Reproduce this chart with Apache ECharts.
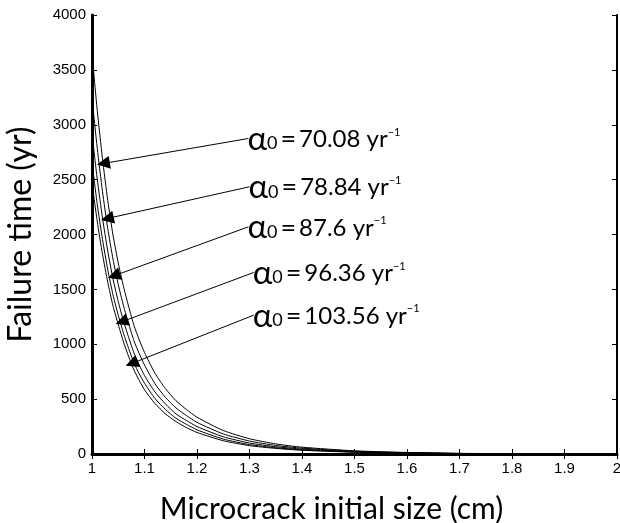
<!DOCTYPE html>
<html>
<head>
<meta charset="utf-8">
<script src="https://cdn.jsdelivr.net/npm/echarts@6/dist/echarts.min.js"></script>
<style>
  html, body { margin: 0; padding: 0; background: #fff; }
  #chart { width: 620px; height: 523px; }
</style>
</head>
<body>
<div id="chart"></div>
<script>
// microcrack initial size (cm)
const sizes = [1.00, 1.01, 1.02, 1.03, 1.04, 1.05, 1.06, 1.07, 1.08, 1.09, 1.10, 1.12, 1.14, 1.16, 1.18, 1.20, 1.25, 1.30, 1.35, 1.40, 1.50, 1.60, 1.70, 1.80, 1.90, 2.00];
// failure time (yr) for each alpha0
const fail7008  = [3650, 3130, 2690, 2310, 1995, 1740, 1525, 1340, 1170, 1040, 925, 735, 595, 485, 405, 335, 214, 139, 92, 62, 29, 14, 6, 3, 1, 0];
const fail7884  = [3245, 2785, 2390, 2055, 1775, 1545, 1350, 1185, 1030, 915, 810, 640, 515, 420, 350, 288, 183, 118, 78, 53, 25, 12, 5, 3, 1, 0];
const fail876   = [2920, 2505, 2150, 1850, 1595, 1390, 1210, 1060, 920, 810, 715, 565, 455, 365, 305, 250, 157, 100, 66, 45, 21, 10, 4, 2, 1, 0];
const fail9636  = [2655, 2275, 1955, 1680, 1450, 1265, 1100, 960, 830, 730, 645, 505, 405, 325, 270, 220, 136, 86, 57, 38, 18, 9, 4, 2, 1, 0];
const fail10356 = [2470, 2120, 1820, 1565, 1350, 1180, 1020, 885, 765, 670, 585, 460, 365, 295, 240, 196, 121, 76, 51, 34, 16, 8, 3, 2, 1, 0];

const alphaValues = ['70.08', '78.84', '87.6', '96.36', '103.56'];
// annotation arrows: label end -> point on curve (data coords)
const arrowFrom = [[1.298, 2875], [1.300, 2435], [1.298, 2070], [1.308, 1654], [1.308, 1265]];
const arrowTo   = [[1.0216, 2647], [1.0292, 2146], [1.042, 1624], [1.0567, 1205], [1.0757, 825]];

const curves = [fail7008, fail7884, fail876, fail9636, fail10356];

const chart = echarts.init(document.getElementById('chart'));

const tickFont = { color: '#000', fontSize: 15, fontFamily: 'Liberation Sans, Arial, sans-serif' };
const nameFamily = 'Lato, sans-serif';

const series = curves.map((vals, i) => {
  const s = {
    type: 'line',
    data: sizes.map((x, j) => [x, vals[j]]),
    showSymbol: false,
    smooth: 0.2,
    lineStyle: { color: '#000', width: 1 },
    silent: true
  };
  if (i === 0) {
    s.markLine = {
      silent: true,
      symbol: ['none', 'triangle'],
      symbolSize: 13,
      label: { show: false },
      lineStyle: { color: '#000', width: 1, type: 'solid' },
      itemStyle: { color: '#000' },
      data: arrowFrom.map((p, k) => [{ coord: p }, { coord: arrowTo[k] }])
    };
  }
  return s;
});

chart.setOption({
  animation: false,
  backgroundColor: '#fff',
  grid: { left: 92, right: 3, top: 15, bottom: 69, containLabel: false, outerBoundsMode: 'none' },
  xAxis: [{
    type: 'value', min: 1, max: 2, interval: 0.1,
    name: 'Microcrack initial size (cm)', nameLocation: 'middle', nameGap: 40,
    nameTextStyle: { color: '#000', fontSize: 30, fontFamily: nameFamily, padding: [0, 46, 0, 0] },
    axisLine: { show: true, lineStyle: { color: '#000', width: 3 } },
    axisTick: { show: true, inside: true, length: 5, lineStyle: { color: '#000', width: 1 } },
    axisLabel: Object.assign({ margin: 7 }, tickFont),
    splitLine: { show: false }
  }, {
    type: 'value', min: 1, max: 2, interval: 0.1, position: 'top',
    axisLine: { show: true, lineStyle: { color: '#000', width: 2 } },
    axisTick: { show: true, inside: true, length: 5, lineStyle: { color: '#000', width: 1 } },
    axisLabel: { show: false },
    splitLine: { show: false }
  }],
  yAxis: [{
    type: 'value', min: 0, max: 4000, interval: 500,
    name: 'Failure time (yr)', nameLocation: 'middle', nameGap: 55, nameRotate: 90,
    nameTextStyle: { color: '#000', fontSize: 32, fontFamily: nameFamily },
    axisLine: { show: true, lineStyle: { color: '#000', width: 3 } },
    axisTick: { show: true, inside: true, length: 5, lineStyle: { color: '#000', width: 1 } },
    axisLabel: Object.assign({ margin: 6, formatter: v => String(v) }, tickFont),
    splitLine: { show: false }
  }, {
    type: 'value', min: 0, max: 4000, interval: 500, position: 'right',
    axisLine: { show: true, lineStyle: { color: '#000', width: 2 } },
    axisTick: { show: true, inside: true, length: 5, lineStyle: { color: '#000', width: 1 } },
    axisLabel: { show: false },
    splitLine: { show: false }
  }],
  series: series
});

// alpha0 labels placed at the tail of each arrow
const labelFont = 'Lato, sans-serif';
const graphics = alphaValues.map((a, k) => {
  const p = chart.convertToPixel({ gridIndex: 0 }, arrowFrom[k]);
  return {
    type: 'text',
    x: p[0] - 1,
    y: p[1] + 1,
    silent: true,
    style: {
      text: '{al|α}{sb|0}{eq|=}{num|' + a + ' yr}{sp|−1}',
      verticalAlign: 'middle',
      align: 'left',
      fill: '#000',
      rich: {
        al: { fontSize: 33, fontFamily: labelFont, fill: '#000', lineHeight: 30 },
        sb: { fontSize: 18, fontFamily: labelFont, fill: '#000', verticalAlign: 'bottom', lineHeight: 30, padding: [0, 2, 2, 0] },
        eq: { fontSize: 27, fontFamily: labelFont, fill: '#000', lineHeight: 30, padding: [0, 3, 0, 1] },
        num: { fontSize: 24, fontFamily: labelFont, fill: '#000', lineHeight: 30 },
        sp: { fontSize: 11, fontFamily: labelFont, fill: '#000', verticalAlign: 'top', lineHeight: 30, padding: [2, 0, 0, 0] }
      }
    }
  };
});
chart.setOption({ graphic: graphics });
</script>
</body>
</html>
